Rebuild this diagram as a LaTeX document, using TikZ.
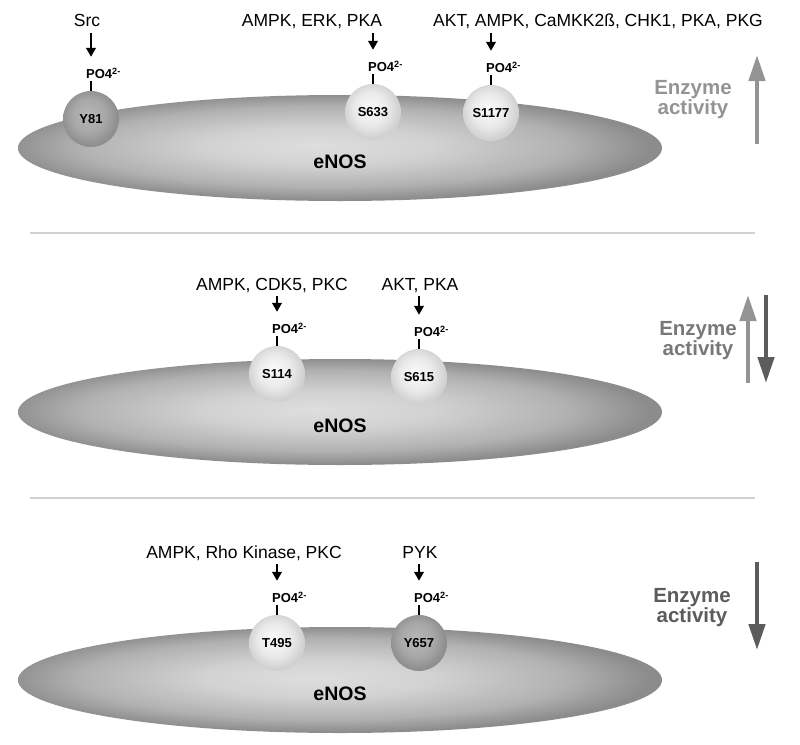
\documentclass[tikz,border=0pt]{standalone}
\usepackage{fontspec}
\setmainfont{Liberation Sans}
\usetikzlibrary{calc, arrows.meta, shapes.geometric, positioning}
\definecolor{enosin}{gray}{0.87}
\definecolor{enosout}{gray}{0.55}
\definecolor{sitein}{gray}{0.98}
\definecolor{siteout}{gray}{0.82}
\definecolor{darkin}{gray}{0.72}
\definecolor{darkout}{gray}{0.56}
\definecolor{lightact}{gray}{0.58}
\definecolor{midact}{gray}{0.47}
\definecolor{darkact}{gray}{0.36}
\definecolor{sepgray}{gray}{0.82}
\pgfdeclareradialshading{enosshade}{\pgfpoint{-2bp}{1bp}}{color(0bp)=(enosin); color(9bp)=(enosin!85!enosout); color(19bp)=(enosin!45!enosout); color(25bp)=(enosout); color(50bp)=(enosout)}
\pgfdeclareradialshading{lightball}{\pgfpoint{-3bp}{4bp}}{color(0bp)=(sitein); color(15bp)=(sitein!60!siteout); color(25bp)=(siteout); color(50bp)=(siteout)}
\pgfdeclareradialshading{darkball}{\pgfpoint{-3bp}{4bp}}{color(0bp)=(darkin); color(15bp)=(darkin!60!darkout); color(25bp)=(darkout); color(50bp)=(darkout)}
\tikzset{
    enosnode/.style = {ellipse, minimum width=644pt, minimum height=106pt, inner sep=0pt, shade, shading=enosshade},
    enoslabel/.style = {inner sep=0pt, font=\fontsize{19.5}{22}\selectfont\bfseries},
    sitenode/.style = {circle, minimum size=56pt, inner sep=0pt, font=\fontsize{13}{14}\selectfont\bfseries},
    lightsite/.style = {sitenode, shade, shading=lightball},
    darksite/.style = {sitenode, shade, shading=darkball},
    ponode/.style = {inner sep=0pt, anchor=base west, font=\fontsize{13}{14}\selectfont\bfseries},
    kinnode/.style = {inner sep=0pt, anchor=base, font=\fontsize{17.5}{20}\selectfont},
    activnode/.style = {align=center, inner sep=0pt, font=\fontsize{20.5}{20}\selectfont\bfseries},
    tick/.style = {line width=1.6pt, shorten >=2pt},
    kinarrow/.style = {line width=2.3pt, -{Triangle[length=9pt, width=9.5pt]}, shorten <=6pt, shorten >=22pt},
    bigarrow/.style = {line width=4.5pt, -{Triangle[length=26pt, width=16pt]}},
    sepline/.style = {sepgray, line width=1.5pt}
}
\newcommand{\phos}{PO4\textsuperscript{2-}}

\begin{document}
\begin{tikzpicture}[x=1pt, y=-1pt]
    \fill[white] (0,0) rectangle (800,744);
    \useasboundingbox (0,0) rectangle (800,744);

    % top panel
    \node [name=enosA, enosnode] at (340,148) {};
    \node [name=enosAlab, enoslabel, yshift=-14pt] at (enosA.center) {eNOS};
    \node [name=y81, darksite] at (91,119) {Y81};
    \node [name=s633, lightsite] at (373,112) {S633};
    \node [name=s1177, lightsite] at (491,113) {S1177};
    \node [name=y81po, ponode] at ($(y81.north)+(-5,-12)$) {\phos};
    \node [name=s633po, ponode] at ($(s633.north)+(-5,-12)$) {\phos};
    \node [name=s1177po, ponode] at ($(s1177.north)+(-5,-12)$) {\phos};
    \node [name=srclab, kinnode] at (87,27) {Src};
    \node [name=s633lab, kinnode] at (312,27) {AMPK, ERK, PKA};
    \node [name=s1177lab, kinnode] at (598,27) {AKT, AMPK, CaMKK2ß, CHK1, PKA, PKG};
    \node [name=actA, activnode, text=lightact] at (693,100) {Enzyme\\activity};
    \coordinate (upAlo) at (757,144);
    \coordinate (upAhi) at (757,55);

    \draw[tick] (y81.north) -- (y81.north |- y81po.base);
    \draw[tick] (s633.north) -- (s633.north |- s633po.base);
    \draw[tick] (s1177.north) -- (s1177.north |- s1177po.base);
    \draw[kinarrow] (srclab.base -| y81) -- (y81po.base -| y81);
    \draw[kinarrow] (s633lab.base -| s633) -- (s633po.base -| s633);
    \draw[kinarrow] (s1177lab.base -| s1177) -- (s1177po.base -| s1177);
    \draw[bigarrow, lightact] (upAlo) -- (upAhi);

    \coordinate (sepAl) at (30,233);
    \coordinate (sepAr) at (755,233);
    \draw[sepline] (sepAl) -- (sepAr);

    % middle panel
    \node [name=enosB, enosnode] at (340,412) {};
    \node [name=enosBlab, enoslabel, yshift=-14pt] at (enosB.center) {eNOS};
    \node [name=s114, lightsite] at (277,374) {S114};
    \node [name=s615, lightsite] at (419,377) {S615};
    \node [name=s114po, ponode] at ($(s114.north)+(-5,-12)$) {\phos};
    \node [name=s615po, ponode] at ($(s615.north)+(-5,-12)$) {\phos};
    \node [name=s114lab, kinnode] at (272,290) {AMPK, CDK5, PKC};
    \node [name=s615lab, kinnode] at (420,290) {AKT, PKA};
    \node [name=actB, activnode, text=midact] at (698,341) {Enzyme\\activity};
    \coordinate (upBlo) at (748,383);
    \coordinate (upBhi) at (748,295);
    \coordinate (dnBhi) at (766,295);
    \coordinate (dnBlo) at (766,383);

    \draw[tick] (s114.north) -- (s114.north |- s114po.base);
    \draw[tick] (s615.north) -- (s615.north |- s615po.base);
    \draw[kinarrow] (s114lab.base -| s114) -- (s114po.base -| s114);
    \draw[kinarrow] (s615lab.base -| s615) -- (s615po.base -| s615);
    \draw[bigarrow, lightact] (upBlo) -- (upBhi);
    \draw[bigarrow, darkact] (dnBhi) -- (dnBlo);

    \coordinate (sepBl) at (30,498);
    \coordinate (sepBr) at (755,498);
    \draw[sepline] (sepBl) -- (sepBr);

    % bottom panel
    \node [name=enosC, enosnode] at (340,680) {};
    \node [name=enosClab, enoslabel, yshift=-14pt] at (enosC.center) {eNOS};
    \node [name=t495, lightsite] at (277,643) {T495};
    \node [name=y657, darksite] at (419,643) {Y657};
    \node [name=t495po, ponode] at ($(t495.north)+(-5,-12)$) {\phos};
    \node [name=y657po, ponode] at ($(y657.north)+(-5,-12)$) {\phos};
    \node [name=t495lab, kinnode] at (244,558) {AMPK, Rho Kinase, PKC};
    \node [name=y657lab, kinnode] at (420,558) {PYK};
    \node [name=actC, activnode, text=darkact] at (692,608) {Enzyme\\activity};
    \coordinate (dnChi) at (757,562);
    \coordinate (dnClo) at (757,650);

    \draw[tick] (t495.north) -- (t495.north |- t495po.base);
    \draw[tick] (y657.north) -- (y657.north |- y657po.base);
    \draw[kinarrow] (t495lab.base -| t495) -- (t495po.base -| t495);
    \draw[kinarrow] (y657lab.base -| y657) -- (y657po.base -| y657);
    \draw[bigarrow, darkact] (dnChi) -- (dnClo);
\end{tikzpicture}
\end{document}
